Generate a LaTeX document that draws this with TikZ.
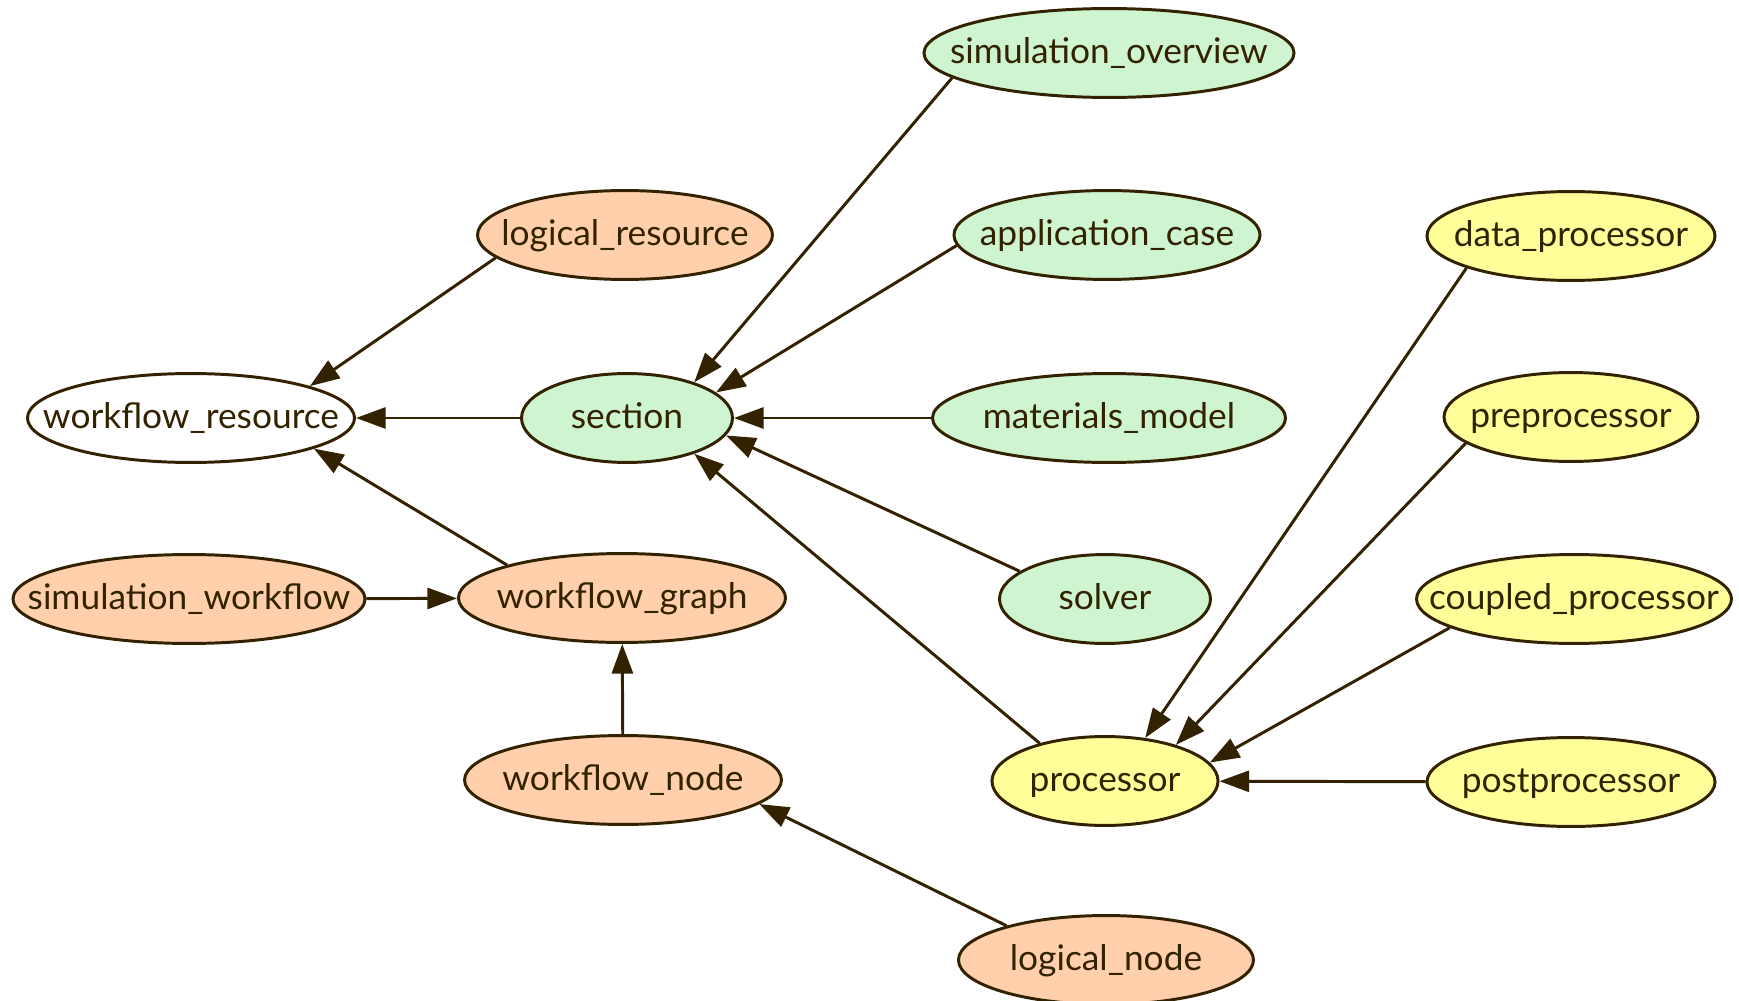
\documentclass[tikz,border=0pt]{standalone}
\usepackage{fontspec}
\setmainfont{Lato}
\usetikzlibrary{shapes.geometric,arrows.meta}
\definecolor{inkc}{HTML}{332200}
\definecolor{peachc}{HTML}{FFD0AB}
\definecolor{mintc}{HTML}{CEF5D0}
\definecolor{lemonc}{HTML}{FFFF99}
% zero-width label so the ellipse keeps its set size
\newcommand{\nm}[1]{\makebox[0pt]{#1}}
\begin{document}
\begin{tikzpicture}[x=0.4048pt, y=-0.4048pt,
  ent/.style={ellipse, draw=inkc, line width=1.2pt, text=inkc, inner sep=0pt,
    minimum height=36pt, text height=8.4pt, text depth=0pt,
    font=\fontsize{14.3}{16}\selectfont},
  res/.style={ent, fill=peachc},
  sec/.style={ent, fill=mintc},
  prc/.style={ent, fill=lemonc},
  link/.style={draw=inkc, line width=1.2pt, -{Triangle[length=12pt,width=8.5pt]}}]
  \useasboundingbox (0,0) rectangle (1739,1001);
  % Workflow resources
  \node[ent, fill=white, minimum width=132.4pt] (wres) at (191,418) {\nm{workflow\_resource}};
  \node[res, minimum width=119.4pt] (lres) at (625,235) {\nm{logical\_resource}};
  \node[res, minimum width=142.5pt] (simwf) at (189,599) {\nm{simulation\_workflow}};
  \node[res, minimum width=132.4pt] (wgraph) at (622,598) {\nm{workflow\_graph}};
  \node[res, minimum width=128.3pt] (wnode) at (623,780) {\nm{workflow\_node}};
  \node[res, minimum width=119.4pt] (lnode) at (1106,960) {\nm{logical\_node}};
  % Sections
  \node[sec, minimum width=85.4pt] (sec) at (627,418) {\nm{section}};
  \node[sec, minimum width=149.8pt] (simov) at (1109,53) {\nm{simulation\_overview}};
  \node[sec, minimum width=123.9pt] (appc) at (1107,235) {\nm{application\_case}};
  \node[sec, minimum width=142.9pt] (matm) at (1109,418) {\nm{materials\_model}};
  \node[sec, minimum width=85.4pt] (solv) at (1105,599) {\nm{solver}};
  % Processors
  \node[prc, minimum width=91.5pt] (proc) at (1105,781) {\nm{processor}};
  \node[prc, minimum width=116.6pt] (dproc) at (1571,236) {\nm{data\_processor}};
  \node[prc, minimum width=102.8pt] (prep) at (1571,417) {\nm{preprocessor}};
  \node[prc, minimum width=127.5pt] (cproc) at (1574,599) {\nm{coupled\_processor}};
  \node[prc, minimum width=116.6pt] (postp) at (1571,782) {\nm{postprocessor}};
  % Links
  \draw[link] (lres.190) -- (wres.15);
  \draw[link] (sec) -- (wres);
  \draw[link] (wgraph.164) -- (wres.-14);
  \draw[link] (simwf) -- (wgraph);
  \draw[link] (wnode) -- (wgraph);
  \draw[link] (lnode.161) -- (wnode.-10);
  \draw[link] (simov.189) -- (sec.28);
  \draw[link] (appc.184) -- (sec.16);
  \draw[link] (matm) -- (sec);
  \draw[link] (solv.162) -- (sec.-10);
  \draw[link] (proc.150) -- (sec.-28);
  \draw[link] (dproc.197) -- (proc.47);
  \draw[link] (prep.194) -- (proc.27);
  \draw[link] (cproc.193) -- (proc.10);
  \draw[link] (postp) -- (proc);
\end{tikzpicture}
\end{document}
